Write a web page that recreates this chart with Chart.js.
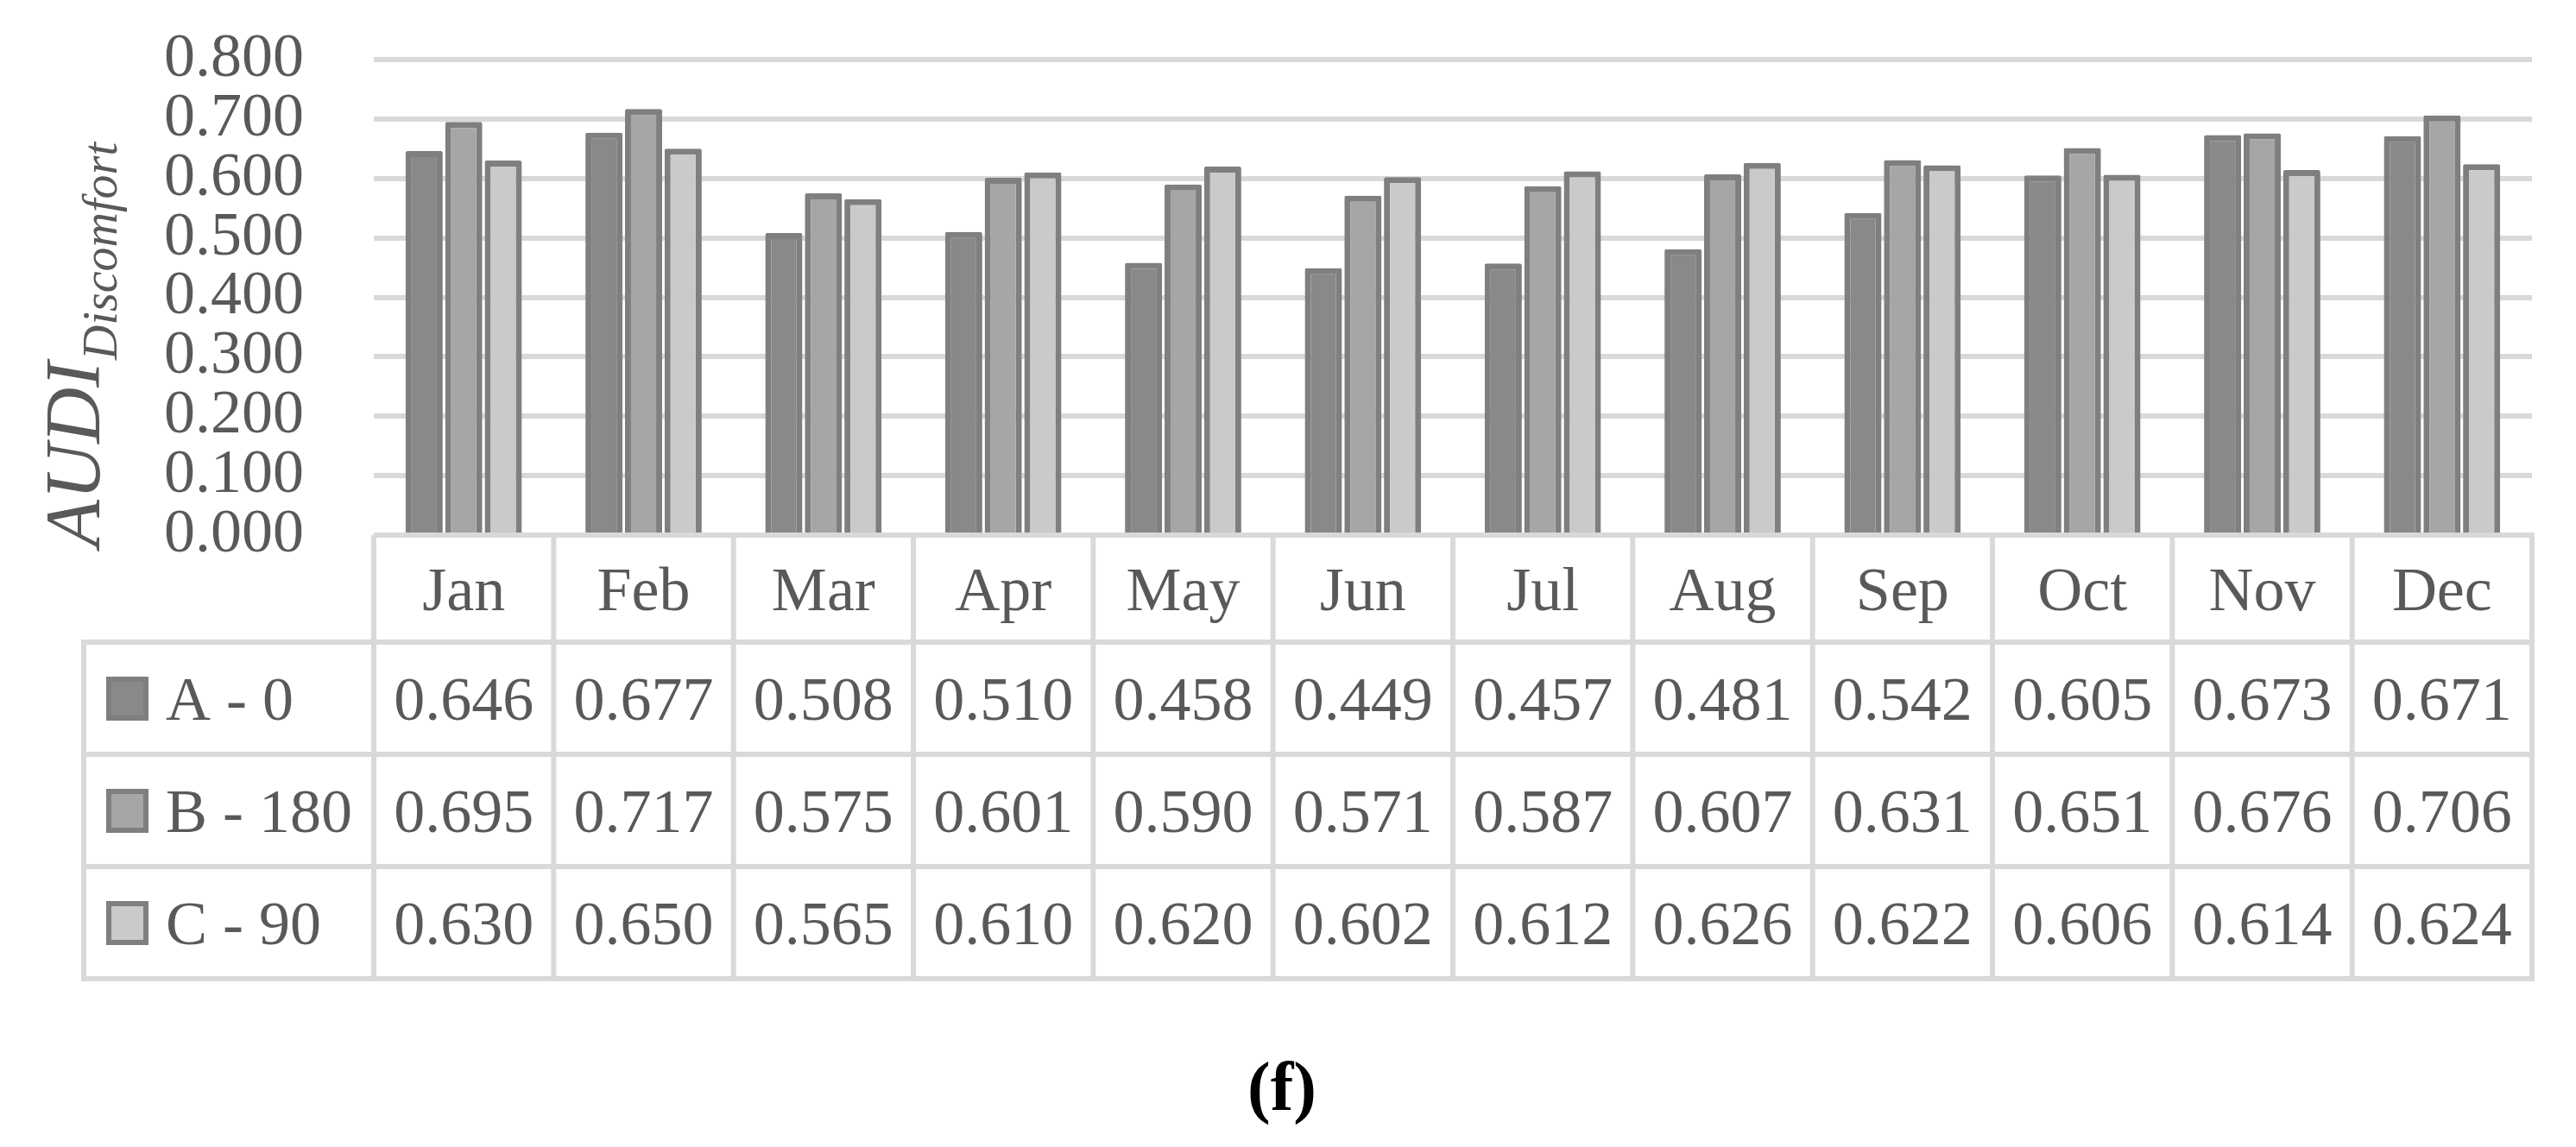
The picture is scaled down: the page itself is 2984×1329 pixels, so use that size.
<!DOCTYPE html>
<html>
<head>
<meta charset="utf-8">
<title>AUDI Discomfort</title>
<script src="https://cdn.jsdelivr.net/npm/chart.js@4"></script>
<style>
  html, body { margin: 0; padding: 0; background: #ffffff; }
  canvas { display: block; }
</style>
</head>
<body>
<canvas id="chart" width="2984" height="1329"></canvas>
<script>
// chart values
const months = ['Jan', 'Feb', 'Mar', 'Apr', 'May', 'Jun', 'Jul', 'Aug', 'Sep', 'Oct', 'Nov', 'Dec'];
const seriesNames = ['A - 0', 'B - 180', 'C - 90'];
const seriesA = [0.646, 0.677, 0.508, 0.510, 0.458, 0.449, 0.457, 0.481, 0.542, 0.605, 0.673, 0.671];
const seriesB = [0.695, 0.717, 0.575, 0.601, 0.590, 0.571, 0.587, 0.607, 0.631, 0.651, 0.676, 0.706];
const seriesC = [0.630, 0.650, 0.565, 0.610, 0.620, 0.602, 0.612, 0.626, 0.622, 0.606, 0.614, 0.624];
const seriesColors = ['#898989', '#a6a6a6', '#cacaca'];
const yMin = 0;
const yMax = 0.8;
const yStep = 0.1;

const textColor = '#595959';
const lineColor = '#d9d9d9';
const serif = '"Liberation Serif", "DejaVu Serif", serif';

// y axis title: AUDI with a "Discomfort" subscript, rotated
const axisTitle = {
  id: 'axisTitle',
  afterDraw(chart) {
    const ctx = chart.ctx;
    ctx.save();
    ctx.translate(115, 634);
    ctx.rotate(-Math.PI / 2);
    ctx.fillStyle = textColor;
    ctx.textAlign = 'left';
    ctx.textBaseline = 'alphabetic';
    ctx.font = 'italic 90px ' + serif;
    ctx.fillText('AUDI', 0, 0);
    const w = ctx.measureText('AUDI').width;
    ctx.font = 'italic 56px ' + serif;
    ctx.fillText('Discomfort', w + 2, 20);
    ctx.restore();
  }
};

// data table under the plot, lined up with the category scale
const dataTable = {
  id: 'dataTable',
  afterDraw(chart) {
    const ctx = chart.ctx;
    const xs = chart.scales.x;
    const area = chart.chartArea;
    const colW = (area.right - area.left) / months.length;
    const headTop = area.bottom;
    const headBottom = headTop + 124;
    const rowH = 130;
    const tableLeft = 97;
    const tableBottom = headBottom + rowH * chart.data.datasets.length;

    const line = (x1, y1, x2, y2) => {
      ctx.beginPath();
      ctx.moveTo(x1, y1);
      ctx.lineTo(x2, y2);
      ctx.stroke();
    };

    ctx.save();
    ctx.strokeStyle = lineColor;
    ctx.lineWidth = 6;
    line(area.left, headTop, area.right + 3, headTop);
    for (let r = 0; r <= chart.data.datasets.length; r++) {
      line(tableLeft - 3, headBottom + r * rowH, area.right + 3, headBottom + r * rowH);
    }
    for (let i = 0; i <= months.length; i++) {
      const x = area.left + i * colW;
      line(x, headTop, x, tableBottom);
    }
    line(tableLeft, headBottom, tableLeft, tableBottom);

    ctx.fillStyle = textColor;
    ctx.font = '72px ' + serif;
    ctx.textAlign = 'center';
    ctx.textBaseline = 'alphabetic';
    months.forEach((m, i) => {
      ctx.fillText(m, xs.getPixelForValue(i), headTop + 62 + 25);
    });

    chart.data.datasets.forEach((ds, r) => {
      const rowTop = headBottom + r * rowH;
      const base = rowTop + rowH / 2 + 25;

      // legend swatch
      ctx.fillStyle = ds.backgroundColor;
      ctx.fillRect(126, rowTop + 43, 43, 45);
      ctx.strokeStyle = ds.borderColor;
      ctx.lineWidth = 6;
      ctx.strokeRect(126, rowTop + 43, 43, 45);

      ctx.fillStyle = textColor;
      ctx.textAlign = 'left';
      ctx.fillText(ds.label, 192, base);

      ctx.textAlign = 'center';
      ds.data.forEach((v, i) => {
        ctx.fillText(v.toFixed(3), xs.getPixelForValue(i), base);
      });
    });

    // panel caption
    ctx.fillStyle = '#000000';
    ctx.font = 'bold 80px ' + serif;
    ctx.textAlign = 'center';
    ctx.fillText('(f)', 1485, 1286);
    ctx.restore();
  }
};

const makeSet = (label, data, color) => ({
  label: label,
  data: data,
  backgroundColor: color,
  borderColor: '#7f7f7f',
  borderWidth: 7,
  borderSkipped: 'start',
  borderRadius: 2,
  categoryPercentage: 0.66,
  barPercentage: 0.94,
});

new Chart(document.getElementById('chart'), {
  type: 'bar',
  data: {
    labels: months,
    datasets: [
      makeSet(seriesNames[0], seriesA, seriesColors[0]),
      makeSet(seriesNames[1], seriesB, seriesColors[1]),
      makeSet(seriesNames[2], seriesC, seriesColors[2]),
    ],
  },
  options: {
    responsive: false,
    animation: false,
    layout: {
      padding: { top: 69, right: 51, bottom: 709, left: 0 },
    },
    plugins: {
      legend: { display: false },
      tooltip: { enabled: false },
      title: { display: false },
    },
    scales: {
      x: {
        display: false,
      },
      y: {
        min: yMin,
        max: yMax,
        afterFit: (scale) => {
          // fixed axis width, and no extra room for the tick text
          scale.width = 433;
          scale.paddingTop = 0;
          scale.paddingBottom = 0;
        },
        border: { display: false },
        grid: {
          color: lineColor,
          lineWidth: 6,
          drawTicks: false,
        },
        ticks: {
          stepSize: yStep,
          autoSkip: false,
          padding: 81,
          color: textColor,
          font: { family: serif, size: 72 },
          callback: (value) => value.toFixed(3),
        },
      },
    },
  },
  plugins: [axisTitle, dataTable],
});
</script>
</body>
</html>
